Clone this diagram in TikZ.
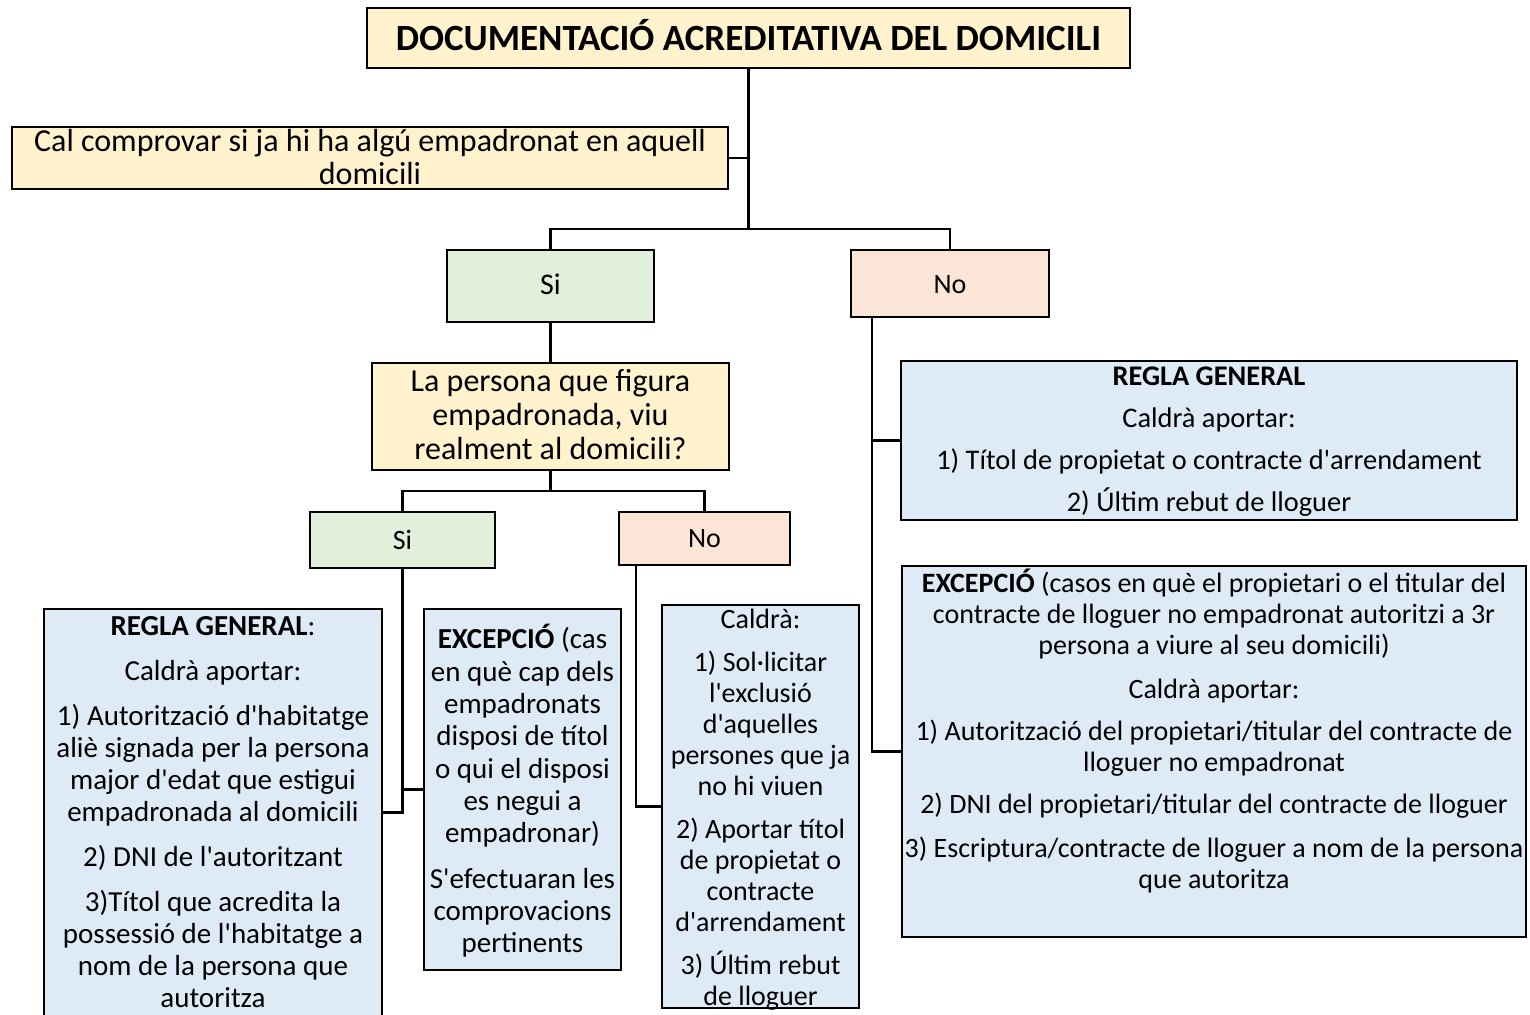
\documentclass[tikz,border=0pt]{standalone}
\usepackage{fontspec}
\setmainfont{Carlito}[Ligatures=TeXOff]
\definecolor{cyellow}{HTML}{FFF2CC}
\definecolor{cgreen}{HTML}{E2EFDA}
\definecolor{cpeach}{HTML}{FBE5D6}
\definecolor{cblue}{HTML}{DEEBF7}
\begin{document}
\begin{tikzpicture}[x=1pt,y=-1pt,
  box/.style={draw=black, line width=2.2pt, anchor=north west, inner sep=0pt, outer sep=0pt},
  txt/.style={anchor=north, align=center, inner sep=0pt, font=\fontsize{28}{32}\selectfont},
  conn/.style={line width=2.2pt, draw=black}]
\useasboundingbox (0,0) rectangle (1530,1014);
% boxes
\node[box, fill=cyellow, minimum width=763pt, minimum height=60pt] (title) at (367,8) {};
\node[box, fill=cyellow, minimum width=716pt, minimum height=62pt] (cal) at (12,127) {};
\node[box, fill=cgreen, minimum width=207pt, minimum height=72pt] (si1) at (447,250) {};
\node[box, fill=cpeach, minimum width=198pt, minimum height=67pt] (no1) at (851,250) {};
\node[box, fill=cyellow, minimum width=357pt, minimum height=107pt] (q) at (372,363) {};
\node[box, fill=cgreen, minimum width=185pt, minimum height=56pt] (si2) at (310,512) {};
\node[box, fill=cpeach, minimum width=171pt, minimum height=53pt] (no2) at (619,512) {};
\node[box, fill=cblue, minimum width=338pt, minimum height=407pt] (reglaL) at (44,609) {};
\node[box, fill=cblue, minimum width=197pt, minimum height=361pt] (excM) at (424,609) {};
\node[box, fill=cblue, minimum width=197pt, minimum height=403pt] (cald) at (662,605) {};
\node[box, fill=cblue, minimum width=616pt, minimum height=159pt] (reglaR) at (901,361) {};
\node[box, fill=cblue, minimum width=624pt, minimum height=371pt] (excR) at (902,566) {};
% connectors
\coordinate (j1) at (748.5,229);
\coordinate (j2) at (550.5,491);
\draw[conn] (title.south) -- (j1);
\draw[conn] (cal.east) -- (cal.east -| j1);
\draw[conn] (si1.north) |- (j1) -| (no1.north);
\draw[conn] (si1.south) -- (q.north);
\draw[conn] (q.south) -- (j2);
\draw[conn] (si2.north) |- (j2) -| (no2.north);
\draw[conn] (si2.south) |- (reglaL.east);
\draw[conn] (si2.south |- excM.west) -- (excM.west);
\draw[conn] ([xshift=17pt]no2.south west) |- (cald.west);
\draw[conn] ([xshift=21pt]no1.south west) |- (reglaR.west);
\draw[conn] ([xshift=21pt]no1.south west) |- (excR.west);
% texts
\node[txt, font=\fontsize{37}{44}\selectfont\bfseries] (ttitle) at (748.5,19.2) {\strut DOCUMENTACIÓ ACREDITATIVA DEL DOMICILI};
\node[txt, font=\fontsize{32}{33}\selectfont] (tcal) at (370,127.9) {\strut Cal comprovar si ja hi ha algú empadronat en aquell\\domicili};
\node[txt, font=\fontsize{30}{32}\selectfont] (tsi1) at (550.5,271.6) {\strut Si};
\node[txt] (tno1) at (950,270.6) {\strut No};
\node[txt, font=\fontsize{32}{34}\selectfont] (tq) at (550.5,367.2) {\strut La persona que figura\\empadronada, viu\\realment al domicili?};
\node[txt] (tsi2) at (402.5,526.6) {\strut Si};
\node[txt] (tno2) at (704.5,524.6) {\strut No};
\node[txt, font=\fontsize{29}{32}\selectfont] (treglaL) at (213,612.6) {\strut\textbf{REGLA GENERAL}:\\[13pt]Caldrà aportar:\\[13pt]1) Autorització d'habitatge\\aliè signada per la persona\\major d'edat que estigui\\empadronada al domicili\\[13pt]2) DNI de l'autoritzant\\[13pt]3)Títol que acredita la\\possessió de l'habitatge a\\nom de la persona que\\autoritza};
\node[txt, font=\fontsize{29}{32.3}\selectfont] (texcM) at (522.5,624.4) {\strut\textbf{EXCEPCIÓ} (cas\\en què cap dels\\empadronats\\disposi de títol\\o qui el disposi\\es negui a\\empadronar)\\[13pt]S'efectuaran les\\comprovacions\\pertinents};
\node[txt, font=\fontsize{28}{31}\selectfont] (tcald) at (760.5,606.3) {\strut Caldrà:\\[12pt]1) Sol·licitar\\l'exclusió\\d'aquelles\\persones que ja\\no hi viuen\\[12pt]2) Aportar títol\\de propietat o\\contracte\\d'arrendament\\[12pt]3) Últim rebut\\de lloguer};
\node[txt, font=\fontsize{28.4}{32}\selectfont] (treglaR) at (1209,362.6) {\strut\textbf{REGLA GENERAL}\\[10pt]Caldrà aportar:\\[10pt]1) Títol de propietat o contracte d'arrendament\\[10pt]2) Últim rebut de lloguer};
\node[txt, font=\fontsize{28}{31}\selectfont] (texcR) at (1214,568.3) {\strut\textbf{EXCEPCIÓ} (casos en què el propietari o el titular del\\contracte de lloguer no empadronat autoritzi a 3r\\persona a viure al seu domicili)\\[13pt]Caldrà aportar:\\[11pt]1) Autorització del propietari/titular del contracte de\\lloguer no empadronat\\[11pt]2) DNI del propietari/titular del contracte de lloguer\\[13pt]3) Escriptura/contracte de lloguer a nom de la persona\\que autoritza};
\end{tikzpicture}
\end{document}
